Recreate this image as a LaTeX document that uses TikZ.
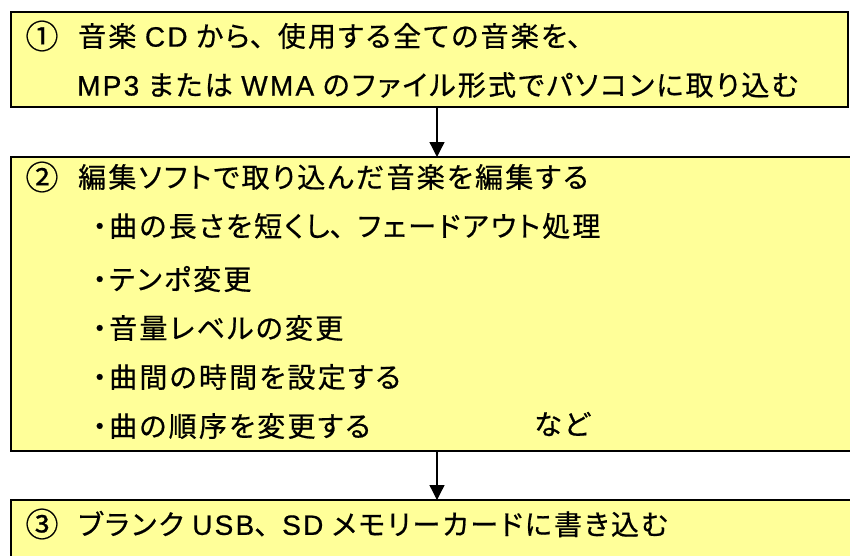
\documentclass[tikz,border=0pt]{standalone}
\usepackage{fontspec}
\setmainfont{Noto Sans CJK JP}
\newfontfamily\jpP[RawFeature=+palt,LetterSpace=8,FakeBold=0.6]{Noto Sans CJK JP}
\newfontfamily\jpN[LetterSpace=8,FakeBold=0.6]{Noto Sans CJK JP}
\newfontfamily\laP[LetterSpace=8,FakeBold=0.6]{Liberation Sans}
\newcommand\tc{{\jpN 、}}
\newcommand\bul{\hbox to 13pt{\hss ・\hss}\hspace{3pt}}
\usetikzlibrary{arrows.meta}
\definecolor{boxyellow}{HTML}{FFFF99}
\begin{document}
\begin{tikzpicture}[x=1pt,y=-1pt,
  box/.style={draw=black,line width=1.6pt,fill=boxyellow,anchor=north west,inner sep=0pt,outer sep=0pt},
  txt/.style={anchor=west,inner sep=0pt,font=\fontsize{28}{28}\jpP},
  num/.style={anchor=center,inner sep=0pt,font=\fontsize{33}{33}\jpN},
  arr/.style={-{Triangle[length=15pt,width=15pt]},line width=1.3pt}]
\useasboundingbox (0,0) rectangle (850,555);
\clip (0,0) rectangle (850,555);
\node[box,minimum width=837pt,minimum height=95pt] (b1) at (11,12) {};
\node[box,minimum width=850pt,minimum height=294pt] (b2) at (11,157) {};
\node[box,minimum width=850pt,minimum height=70pt] (b3) at (11,500) {};
\coordinate (ax) at (437,0);
\draw[arr] (b1.south -| ax) -- (b2.north -| ax);
\draw[arr] (b2.south -| ax) -- (b3.north -| ax);
% box 1
\node[num] (n1) at (42,36) {①};
\node[txt] (t1a) at (78,36) {音楽 {\laP CD} から\tc 使用する全ての音楽を\tc};
\node[txt] (t1b) at (77,85) {{\laP MP3} または {\laP WMA} のファイル形式でパソコンに取り込む};
% box 2
\node[num] (n2) at (42,177) {②};
\node[txt] (t2a) at (78,177) {編集ソフトで取り込んだ音楽を編集する};
\node[txt] (t2b) at (93,226) {\bul 曲の長さを短くし\tc フェードアウト処理};
\node[txt] (t2c) at (93,279) {\bul テンポ変更};
\node[txt] (t2d) at (93,328) {\bul 音量レベルの変更};
\node[txt] (t2e) at (93,377) {\bul 曲間の時間を設定する};
\node[txt] (t2f) at (93,426) {\bul 曲の順序を変更する};
\node[txt] (t2g) at (534,424) {など};
% box 3
\node[num] (n3) at (42,524) {③};
\node[txt] (t3) at (78,524) {ブランク {\laP USB}\tc{\laP SD} メモリーカードに書き込む};
\end{tikzpicture}
\end{document}
